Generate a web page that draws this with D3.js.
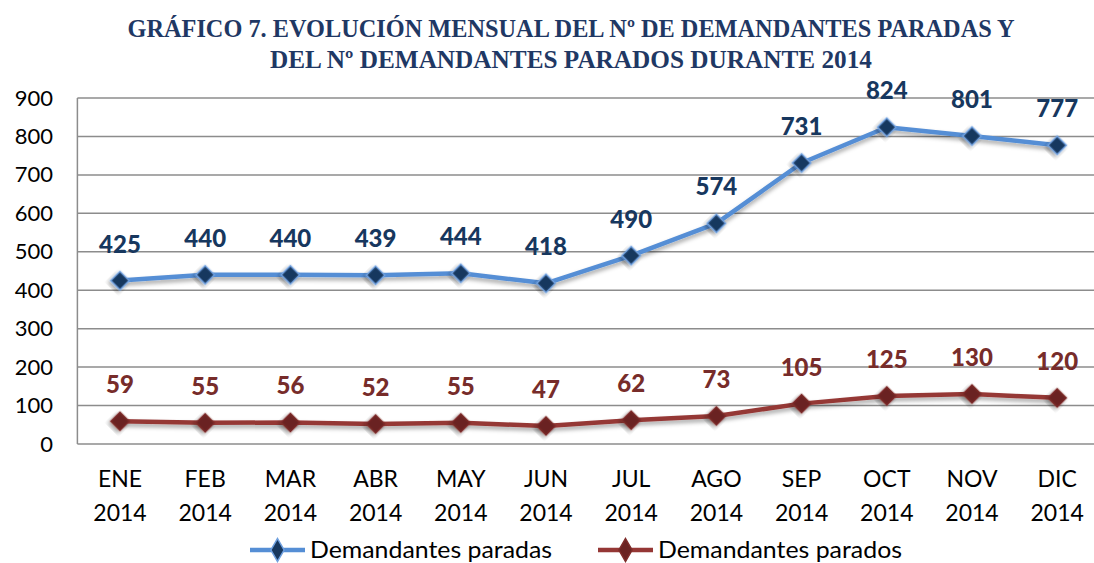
<!DOCTYPE html>
<html>
<head>
<meta charset="utf-8">
<script src="https://cdn.jsdelivr.net/npm/d3@7"></script>
<style>
  body { margin: 0; background: #fff; }
  svg { display: block; }
</style>
</head>
<body>
<div id="chart"></div>
<script>
const months = ["ENE", "FEB", "MAR", "ABR", "MAY", "JUN", "JUL", "AGO", "SEP", "OCT", "NOV", "DIC"];
const year = "2014";
const paradas = [425, 440, 440, 439, 444, 418, 490, 574, 731, 824, 801, 777];
const parados = [59, 55, 56, 52, 55, 47, 62, 73, 105, 125, 130, 120];
const yTicks = [0, 100, 200, 300, 400, 500, 600, 700, 800, 900];
const titleLines = ["GRÁFICO 7. EVOLUCIÓN MENSUAL DEL Nº DE DEMANDANTES PARADAS Y",
                    "DEL Nº DEMANDANTES PARADOS DURANTE 2014"];

const width = 1094, height = 563;
const margin = {top: 98, left: 77.4, bottom: 119};
const plotW = 12 * 85.2;

const svg = d3.select("#chart").append("svg")
    .attr("width", width)
    .attr("height", height);

// shadow under lines and markers
const defs = svg.append("defs");
const shadow = defs.append("filter").attr("id", "shadow")
    .attr("x", "-20%").attr("y", "-20%").attr("width", "140%").attr("height", "160%");
shadow.append("feDropShadow")
    .attr("dx", 0).attr("dy", 3).attr("stdDeviation", 2)
    .attr("flood-color", "#000").attr("flood-opacity", 0.35);

// title
const titleWidths = [887, 602];
svg.append("g").selectAll("text")
    .data(titleLines)
    .join("text")
    .attr("x", 571)
    .attr("y", (d, i) => 37 + i * 31)
    .attr("text-anchor", "middle")
    .attr("textLength", (d, i) => titleWidths[i])
    .attr("lengthAdjust", "spacingAndGlyphs")
    .style("font-family", "'Liberation Serif', serif")
    .style("font-weight", "bold")
    .style("font-size", "25px")
    .style("fill", "#1F3864")
    .text(d => d);

const x = d3.scaleBand()
    .domain(months)
    .range([margin.left, margin.left + plotW]);

const y = d3.scaleLinear()
    .domain([0, 900])
    .range([height - margin.bottom, margin.top]);

// gridlines
svg.append("g").selectAll("line")
    .data(yTicks)
    .join("line")
    .attr("x1", margin.left)
    .attr("x2", margin.left + plotW)
    .attr("y1", d => y(d))
    .attr("y2", d => y(d))
    .style("stroke", "#8c8c8c")
    .style("stroke-width", 1.5);

// y axis line
svg.append("line")
    .attr("x1", margin.left).attr("x2", margin.left)
    .attr("y1", y(900)).attr("y2", y(0))
    .style("stroke", "#8c8c8c")
    .style("stroke-width", 1.5);

// y tick labels
svg.append("g").selectAll("text")
    .data(yTicks)
    .join("text")
    .attr("x", 53)
    .attr("y", d => y(d) + 7.5)
    .attr("text-anchor", "end")
    .style("font-family", "Lato, sans-serif")
    .style("font-size", "22px")
    .style("fill", "#000")
    .text(d => d);

// x labels
const xl = svg.append("g").selectAll("text")
    .data(months)
    .join("text")
    .attr("text-anchor", "middle")
    .style("font-family", "Lato, sans-serif")
    .style("font-size", "23px")
    .style("fill", "#000");
xl.append("tspan")
    .attr("x", d => x(d) + x.bandwidth() / 2)
    .attr("y", 487)
    .text(d => d);
xl.append("tspan")
    .attr("x", d => x(d) + x.bandwidth() / 2)
    .attr("y", 521)
    .text(year);

const series = [
    {name: "Demandantes paradas", values: paradas, line: "#558ED5", fill: "#17375E", stroke: "#6FA0DF", label: "#17375E", legendW: 242},
    {name: "Demandantes parados", values: parados, line: "#953735", fill: "#6B2322", stroke: "#7E2C2A", label: "#772C2A", legendW: 244}
];

const cx = i => x(months[i]) + x.bandwidth() / 2;
const marker = d3.symbol().type(d3.symbolSquare).size(170);
const legendMarker = d3.symbol().type(d3.symbolDiamond).size(150);

series.forEach(s => {
    const g = svg.append("g");
    const line = d3.line()
        .x((d, i) => cx(i))
        .y(d => y(d));
    g.append("path")
        .datum(s.values)
        .attr("d", line)
        .attr("filter", "url(#shadow)")
        .style("fill", "none")
        .style("stroke", s.line)
        .style("stroke-width", 4.5)
        .style("stroke-linejoin", "round");
    g.selectAll("path.pt")
        .data(s.values)
        .join("path")
        .attr("class", "pt")
        .attr("d", marker)
        .attr("transform", (d, i) => `translate(${cx(i)}, ${y(d)}) rotate(45)`)
        .attr("filter", "url(#shadow)")
        .style("fill", s.fill)
        .style("stroke", s.stroke)
        .style("stroke-width", 1.5);
    g.selectAll("text")
        .data(s.values)
        .join("text")
        .attr("x", (d, i) => cx(i))
        .attr("y", d => y(d) - 28)
        .attr("text-anchor", "middle")
        .style("font-family", "Lato, sans-serif")
        .style("font-weight", "900")
        .style("font-size", "24px")
        .style("fill", s.label)
        .text(d => d);
});

// legend
const legendX = [250, 598];
const lg = svg.append("g").selectAll("g")
    .data(series)
    .join("g")
    .attr("transform", (d, i) => `translate(${legendX[i]}, 550)`);
lg.append("line")
    .attr("x1", 0).attr("x2", 55)
    .attr("y1", 0).attr("y2", 0)
    .style("stroke", d => d.line)
    .style("stroke-width", 4.5);
lg.append("path")
    .attr("d", legendMarker)
    .attr("transform", "translate(27.5, 0)")
    .style("fill", d => d.fill)
    .style("stroke", d => d.stroke)
    .style("stroke-width", 1.5);
lg.append("text")
    .attr("x", 60)
    .attr("y", 8)
    .attr("textLength", d => d.legendW)
    .attr("lengthAdjust", "spacingAndGlyphs")
    .style("font-family", "Lato, sans-serif")
    .style("font-size", "23px")
    .style("fill", "#000")
    .text(d => d.name);
</script>
</body>
</html>
